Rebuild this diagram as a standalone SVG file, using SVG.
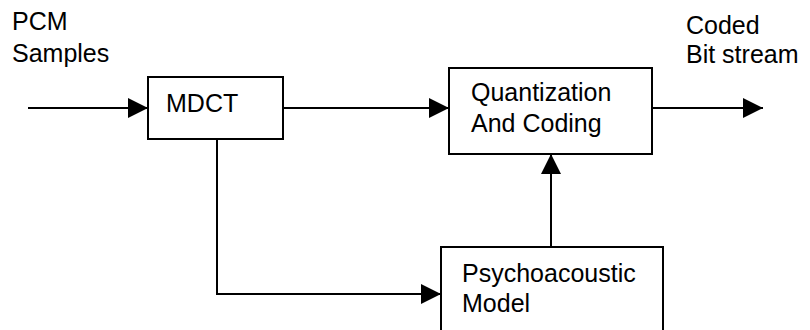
<svg xmlns="http://www.w3.org/2000/svg" width="810" height="330" viewBox="0 0 810 330">
<style>
.box{fill:#fff;stroke:#000;stroke-width:2}
.t{font-family:"Liberation Sans",Arial,sans-serif;font-size:25px;fill:#000}
.c{fill:none;stroke:#000;stroke-width:2}
</style>
<defs>
<marker id="ah" markerUnits="userSpaceOnUse" markerWidth="20" markerHeight="20" refX="20" refY="10" orient="auto">
<path d="M0,0 L20,10 L0,20 Z" fill="#000"/>
</marker>
</defs>
<rect width="810" height="330" fill="#fff"/>
<g id="labels">
<text class="t" x="12" y="30">PCM</text>
<text class="t" x="12" y="62">Samples</text>
<text class="t" x="686" y="34">Coded</text>
<text class="t" x="686" y="63">Bit stream</text>
</g>
<g id="mdct">
<rect class="box" x="148" y="77" width="135" height="62"/>
<text class="t" x="166" y="112">MDCT</text>
</g>
<g id="quant">
<rect class="box" x="449" y="68" width="203" height="86"/>
<text class="t" x="471" y="101">Quantization</text>
<text class="t" x="471" y="132">And Coding</text>
</g>
<g id="psycho">
<rect class="box" x="441" y="247" width="222" height="100"/>
<text class="t" x="462" y="282">Psychoacoustic</text>
<text class="t" x="462" y="312">Model</text>
</g>
<g id="connectors">
<line class="c" x1="28" y1="108" x2="148" y2="108" marker-end="url(#ah)"/>
<line class="c" x1="283" y1="108" x2="449" y2="108" marker-end="url(#ah)"/>
<line class="c" x1="652" y1="108" x2="763" y2="108" marker-end="url(#ah)"/>
<line class="c" x1="551" y1="247" x2="551" y2="154" marker-end="url(#ah)"/>
<polyline class="c" points="217,139 217,294 441,294" marker-end="url(#ah)"/>
</g>
</svg>
